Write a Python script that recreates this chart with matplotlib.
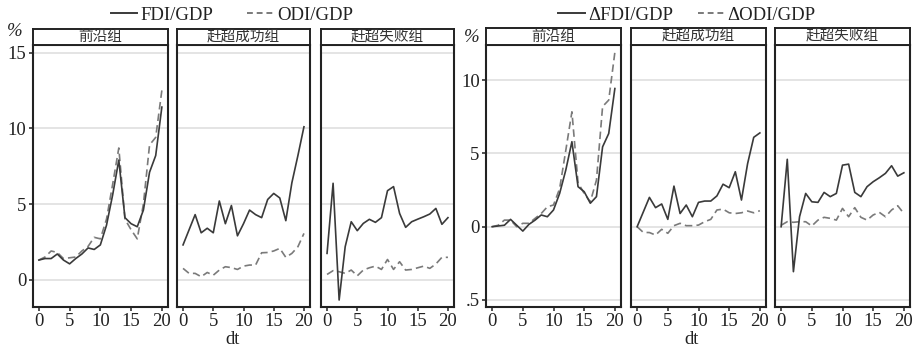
import matplotlib
matplotlib.use("Agg")
import matplotlib.pyplot as plt
from matplotlib.lines import Line2D

plt.rcParams['font.family'] = ['Liberation Serif', 'Noto Sans CJK SC']
plt.rcParams['axes.unicode_minus'] = False

W, H = 916, 351

dt = list(range(21))
groups = ["前沿组", "赶超成功组", "赶超失败组"]

# level shares (%)
fdi_front = [1.3, 1.4, 1.4, 1.7, 1.3, 1.05, 1.4, 1.7, 2.1, 2.0, 2.3, 3.6, 5.6, 7.9, 4.1, 3.7, 3.5, 4.6, 7.1, 8.2, 11.4]
odi_front = [1.3, 1.5, 1.9, 1.8, 1.4, 1.45, 1.5, 1.9, 2.2, 2.8, 2.7, 4.0, 6.3, 8.7, 4.0, 3.3, 2.7, 5.0, 8.9, 9.4, 12.5]
fdi_succ = [2.3, 3.3, 4.3, 3.1, 3.4, 3.1, 5.2, 3.7, 4.9, 2.9, 3.7, 4.6, 4.3, 4.1, 5.3, 5.7, 5.4, 3.9, 6.4, 8.2, 10.1]
odi_succ = [0.75, 0.42, 0.42, 0.2, 0.48, 0.3, 0.64, 0.86, 0.8, 0.68, 0.9, 0.97, 0.97, 1.78, 1.8, 1.9, 2.07, 1.48, 1.74, 2.18, 3.06]
fdi_fail = [1.74, 6.37, -1.34, 2.18, 3.83, 3.24, 3.72, 3.99, 3.79, 4.1, 5.88, 6.15, 4.38, 3.46, 3.83, 4.0, 4.16, 4.34, 4.71, 3.66, 4.1]
odi_fail = [0.35, 0.6, 0.53, 0.42, 0.64, 0.26, 0.64, 0.79, 0.9, 0.68, 1.34, 0.68, 1.19, 0.64, 0.68, 0.79, 0.9, 0.75, 1.04, 1.48, 1.48]

# changes (%)
dfdi_front = [0, 0.05, 0.1, 0.5, 0.1, -0.3, 0.16, 0.45, 0.8, 0.68, 1.14, 2.27, 3.86, 5.8, 2.73, 2.39, 1.6, 2.05, 5.45, 6.36, 9.43]
dodi_front = [0, 0.1, 0.45, 0.45, 0, 0.23, 0.23, 0.57, 0.9, 1.36, 1.48, 2.6, 5.2, 7.84, 3.0, 2.27, 1.7, 3.18, 8.2, 8.64, 11.9]
dfdi_succ = [0, 1.0, 2.0, 1.3, 1.55, 0.5, 2.77, 0.9, 1.48, 0.68, 1.66, 1.75, 1.75, 2.1, 2.9, 2.66, 3.75, 1.82, 4.3, 6.1, 6.4]
dodi_succ = [0, -0.39, -0.4, -0.57, -0.18, -0.45, 0.07, 0.23, 0.07, 0.07, 0.11, 0.34, 0.5, 1.14, 1.2, 0.95, 0.9, 0.95, 1.07, 0.95, 1.09]
dfdi_fail = [0, 4.6, -3.07, 0.68, 2.27, 1.7, 1.66, 2.34, 2.05, 2.27, 4.2, 4.27, 2.34, 2.05, 2.73, 3.07, 3.34, 3.64, 4.16, 3.45, 3.68]
dodi_fail = [0.1, 0.34, 0.3, 0.34, 0.34, 0.05, 0.45, 0.64, 0.57, 0.45, 1.25, 0.68, 1.3, 0.64, 0.45, 0.8, 0.98, 0.68, 1.14, 1.43, 0.9]

left_ticks = [0, 5, 10, 15]
left_ticklabels = ["0", "5", "10", "15"]
right_ticks = [-5, 0, 5, 10]
right_ticklabels = [".5", "0", "5", "10"]

SOLID_C = "#3a3a3a"
DASH_C = "#7a7a7a"
DASH = (0, (4.5, 2.5))
FS = 13.5


def rect(x0, x1, y0, y1):
    return [x0 / W, 1 - y1 / H, (x1 - x0) / W, (y1 - y0) / H]


def facet(fig, xr, strip_y, title, fdi, odi, ylim, yt, ytl, show_y):
    ax = fig.add_axes(rect(xr[0], xr[1], 45, 306.7))
    for y in yt:
        ax.axhline(y, color="#dcdcdc", lw=1.1, zorder=0)
    ax.plot(dt, odi, color=DASH_C, lw=1.2, ls=DASH)
    ax.plot(dt, fdi, color=SOLID_C, lw=1.2)
    ax.set_xlim(-1, 21)
    ax.set_ylim(*ylim)
    ax.set_xticks([0, 5, 10, 15, 20])
    ax.set_yticks(yt)
    if show_y:
        ax.set_yticklabels(ytl)
    else:
        ax.tick_params(axis="y", left=False, labelleft=False)
    ax.tick_params(axis="both", direction="out", length=3, width=1.1,
                   color="#222222", labelsize=FS, pad=1.5, labelcolor="#222222")
    for s in ax.spines.values():
        s.set_linewidth(1.5)
        s.set_color("#222222")
    st = fig.add_axes(rect(xr[0], xr[1], strip_y[0], strip_y[1]))
    st.set_xticks([])
    st.set_yticks([])
    for s in st.spines.values():
        s.set_linewidth(1.4)
        s.set_color("#222222")
    st.text(0.5, 0.45, title, ha="center", va="center", fontsize=10.5,
            family=["Noto Sans CJK SC"], color="#333333")
    return ax


fig = plt.figure(figsize=(W / 100, H / 100), dpi=100)

left_x = [(32.7, 168), (177, 310), (321, 454)]
right_x = [(486, 621), (631, 766), (775, 910)]
left_data = [(fdi_front, odi_front), (fdi_succ, odi_succ), (fdi_fail, odi_fail)]
right_data = [(dfdi_front, dodi_front), (dfdi_succ, dodi_succ), (dfdi_fail, dodi_fail)]

for i in range(3):
    facet(fig, left_x[i], (28.5, 44.5), groups[i], left_data[i][0], left_data[i][1],
          (-1.78, 15.5), left_ticks, left_ticklabels, i == 0)
    facet(fig, right_x[i], (27.5, 44.5), groups[i], right_data[i][0], right_data[i][1],
          (-5.46, 12.4), right_ticks, right_ticklabels, i == 0)

fig.text(15 / W, 1 - 32 / H, "%", fontsize=FS, ha="center", va="center",
         color="#222222", style="italic")
fig.text(472 / W, 1 - 37 / H, "%", fontsize=FS, ha="center", va="center",
         color="#222222", style="italic")
fig.text(233 / W, 1 - 340 / H, "dt", fontsize=FS, ha="center", va="center", color="#222222")
fig.text(692 / W, 1 - 340 / H, "dt", fontsize=FS, ha="center", va="center", color="#222222")

h_solid = Line2D([], [], color=SOLID_C, lw=1.4)
h_dash = Line2D([], [], color=DASH_C, lw=1.4, ls=(0, (3, 2)))
fig.legend([h_solid, h_dash], ["FDI/GDP", "ODI/GDP"], loc="center",
           bbox_to_anchor=(232 / W, 1 - 15 / H), ncol=2, frameon=False,
           fontsize=FS, handlelength=1.4, handletextpad=0.2, columnspacing=1.8,
           borderpad=0, labelcolor="#222222")
fig.legend([h_solid, h_dash], ["ΔFDI/GDP", "ΔODI/GDP"], loc="center",
           bbox_to_anchor=(687 / W, 1 - 15 / H), ncol=2, frameon=False,
           fontsize=FS, handlelength=1.4, handletextpad=0.2, columnspacing=1.3,
           borderpad=0, labelcolor="#222222")

fig.savefig("out.png", dpi=100)
